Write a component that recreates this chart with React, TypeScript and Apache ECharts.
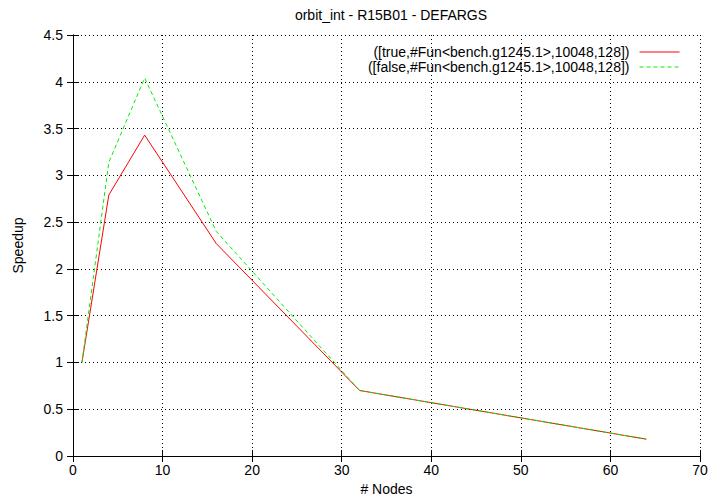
import React, { useEffect, useRef } from "react";
import * as echarts from "echarts";

const nodes = [1, 4, 8, 16, 32, 64];
const trueSpeedup = [1, 2.79, 3.43, 2.27, 0.7, 0.18];
const falseSpeedup = [1, 3.14, 4.04, 2.4, 0.7, 0.18];
const seriesNames = [
  "([true,#Fun<bench.g1245.1>,10048,128])",
  "([false,#Fun<bench.g1245.1>,10048,128])",
];

export default function App() {
  const ref = useRef<HTMLDivElement>(null);
  useEffect(() => {
    if (!ref.current) return;
    const chart = echarts.init(ref.current, null, { renderer: "svg" });
    const font = "Liberation Sans, Arial, Helvetica, sans-serif";
    const fs = 14;
    const gridLine = { show: true, lineStyle: { color: "#000", type: [1, 3] as any, width: 1 } };
    const baseX = { type: "value" as const, min: 0, max: 70, interval: 10 };
    const baseY = { type: "value" as const, min: 0, max: 4.5, interval: 0.5 };
    const tick = { show: true, inside: true, length: 6, lineStyle: { color: "#000" } };
    const line = { show: true, lineStyle: { color: "#000", width: 1 } };
    chart.setOption({
      animation: false,
      backgroundColor: "#fff",
      textStyle: { fontFamily: font },
      title: {
        text: "orbit_int - R15B01 - DEFARGS",
        left: 386,
        textAlign: "center",
        top: 3,
        textStyle: { fontFamily: font, fontSize: fs, fontWeight: "normal", color: "#000" },
      },
      legend: {
        right: 27,
        top: 40,
        orient: "vertical",
        align: "right",
        itemGap: 1,
        itemWidth: 40,
        itemHeight: 14,
        itemStyle: { opacity: 0 },
        lineStyle: { width: 1 },
        textStyle: { fontFamily: font, fontSize: fs, color: "#000", padding: [0, 5, 0, 0], lineHeight: 14 },
        data: seriesNames,
      },
      grid: { left: 73, right: 12, top: 35, bottom: 41, outerBoundsMode: "none", containLabel: false },
      xAxis: [
        {
          ...baseX,
          name: "# Nodes",
          nameLocation: "middle",
          nameGap: 24,
          nameTextStyle: { fontFamily: font, fontSize: fs, color: "#000" },
          axisLine: line,
          axisTick: tick,
          axisLabel: { color: "#000", fontFamily: font, fontSize: fs, margin: 7 },
          splitLine: gridLine,
        },
        {
          ...baseX,
          position: "top",
          axisLine: line,
          axisTick: tick,
          axisLabel: { show: false },
          splitLine: { show: false },
        },
      ],
      yAxis: [
        {
          ...baseY,
          name: "Speedup",
          nameLocation: "middle",
          nameGap: 48,
          nameTextStyle: { fontFamily: font, fontSize: fs, color: "#000" },
          axisLine: line,
          axisTick: tick,
          axisLabel: { color: "#000", fontFamily: font, fontSize: fs, margin: 10 },
          splitLine: gridLine,
        },
        {
          ...baseY,
          position: "right",
          axisLine: line,
          axisTick: tick,
          axisLabel: { show: false },
          splitLine: { show: false },
        },
      ],
      series: [
        {
          name: seriesNames[0],
          type: "line",
          data: nodes.map((n, i) => [n, trueSpeedup[i]]),
          showSymbol: false,
          symbol: "none",
          color: "#ff0000",
          lineStyle: { color: "#ff0000", width: 1 },
        },
        {
          name: seriesNames[1],
          type: "line",
          data: nodes.map((n, i) => [n, falseSpeedup[i]]),
          showSymbol: false,
          symbol: "none",
          color: "#00ee00",
          lineStyle: { color: "#00ee00", width: 1, type: [4, 3] },
        },
      ],
    });
    return () => chart.dispose();
  }, []);
  return <div ref={ref} style={{ width: 712, height: 497, position: "fixed", left: 0, top: 0 }} />;
}
